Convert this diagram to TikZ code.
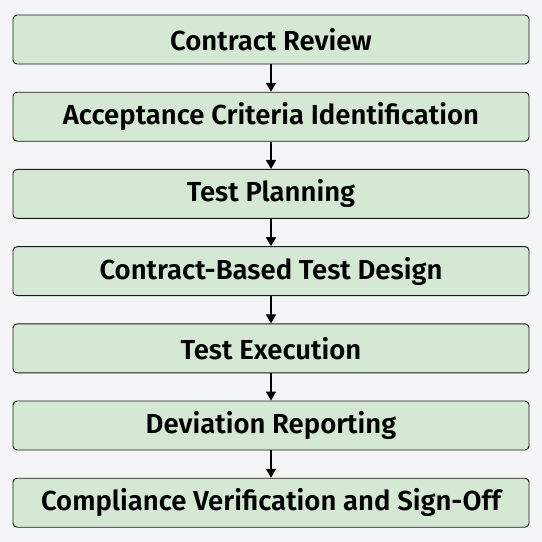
\documentclass[tikz,border=0pt]{standalone}
\usepackage{fontspec}
\setmainfont{Fira Sans}[BoldFont={Fira Sans SemiBold}]
\usetikzlibrary{arrows, arrows.meta}
\definecolor{stepfill}{HTML}{D5E8D4}
\definecolor{pagebg}{HTML}{F4F5F6}
\begin{document}
\begin{tikzpicture}[x=1pt, y=1pt,
    stepbox/.style={rectangle, draw=black!90, fill=stepfill, rounded corners=4pt, line width=0.9pt,
      minimum width=516pt, minimum height=49pt, inner sep=0pt, font=\fontsize{27.5}{32}\selectfont\bfseries},
    flow/.style={-{Triangle[length=9pt, width=10pt]}, line width=1.4pt}]
      \fill[pagebg] (0,0) rectangle (542,-542);
      \useasboundingbox (0,0) rectangle (542,-542);

      \node[stepbox] (1) at (271,-39.5) {Contract Review};
      \node[stepbox] (2) at (271,-116.7) {Acceptance Criteria Identification};
      \node[stepbox] (3) at (271,-193.9) {Test Planning};
      \node[stepbox] (4) at (271,-271.1) {Contract-Based Test Design};
      \node[stepbox] (5) at (271,-348.3) {Test Execution};
      \node[stepbox] (6) at (271,-425.5) {Deviation Reporting};
      \node[stepbox] (7) at (271,-502.7) {Compliance Verification and Sign-Off};

      \draw[flow] (1) -- (2);
      \draw[flow] (2) -- (3);
      \draw[flow] (3) -- (4);
      \draw[flow] (4) -- (5);
      \draw[flow] (5) -- (6);
      \draw[flow] (6) -- (7);
    \end{tikzpicture}
\end{document}
